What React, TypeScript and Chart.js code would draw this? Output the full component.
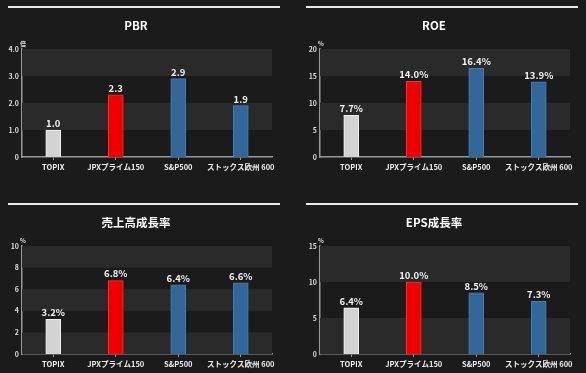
import React, { useEffect, useRef } from "react";
import { Chart, registerables } from "chart.js";
Chart.register(...registerables);

const categories = ["TOPIX", "JPXプライム150", "S&P500", "ストックス欧州 600"];
const pbrValues = [1.0, 2.3, 2.9, 1.9];
const roeValues = [7.7, 14.0, 16.4, 13.9];
const salesGrowthValues = [3.2, 6.8, 6.4, 6.6];
const epsGrowthValues = [6.4, 10.0, 8.5, 7.3];

const pbrTicks = ["0", "1.0", "2.0", "3.0", "4.0"];
const roeTicks = ["0", "5", "10", "15", "20"];
const salesTicks = ["0", "2", "4", "6", "8", "10"];
const epsTicks = ["0", "5", "10", "15"];

const barColors = ["#d3d3d3", "#ee0000", "#336699", "#336699"];
const barBorders = ["#f0f0f0", "#ff3030", "#4a7db0", "#4a7db0"];

const FONT = "'Noto Sans CJK JP', 'Noto Sans', sans-serif";

type PanelDef = {
  title: string;
  unit: string;
  suffix: string;
  values: number[];
  ticks: string[];
  max: number;
  step: number;
  left: number;
  top: number;
};

const panels: PanelDef[] = [
  { title: "PBR", unit: "倍", suffix: "", values: pbrValues, ticks: pbrTicks, max: 4, step: 1, left: 0, top: 0 },
  { title: "ROE", unit: "%", suffix: "%", values: roeValues, ticks: roeTicks, max: 20, step: 5, left: 298, top: 0 },
  { title: "売上高成長率", unit: "%", suffix: "%", values: salesGrowthValues, ticks: salesTicks, max: 10, step: 2, left: 0, top: 197 },
  { title: "EPS成長率", unit: "%", suffix: "%", values: epsGrowthValues, ticks: epsTicks, max: 15, step: 5, left: 298, top: 197 },
];

const bandsPlugin = {
  id: "bands",
  beforeDatasetsDraw(chart: any) {
    const { ctx, chartArea } = chart;
    const y = chart.scales.y;
    const ticks = y.ticks;
    const n = ticks.length;
    ctx.save();
    for (let j = 0; j < n - 1; j++) {
      if ((n - 2 - j) % 2 === 0) {
        const y0 = y.getPixelForValue(ticks[j].value);
        const y1 = y.getPixelForValue(ticks[j + 1].value);
        ctx.fillStyle = "#2a2a2a";
        ctx.fillRect(chartArea.left, y1, chartArea.right - chartArea.left, y0 - y1);
      }
    }
    ctx.restore();
  },
};

const labelsPlugin = {
  id: "valueLabels",
  afterDatasetsDraw(chart: any, _args: any, opts: any) {
    const { ctx } = chart;
    const meta = chart.getDatasetMeta(0);
    const data = chart.data.datasets[0].data as number[];
    ctx.save();
    ctx.fillStyle = "#f2f2f2";
    ctx.font = `bold 9.5px ${FONT}`;
    ctx.textAlign = "center";
    ctx.textBaseline = "bottom";
    meta.data.forEach((bar: any, i: number) => {
      ctx.fillText(data[i].toFixed(1) + (opts.suffix || ""), bar.x, bar.y - 2);
    });
    const ca = chart.chartArea;
    ctx.font = `bold 6px ${FONT}`;
    ctx.fillStyle = "#dddddd";
    ctx.textBaseline = "middle";
    ctx.fillText(opts.unit || "", ca.left + 1, ca.top - 5);
    ctx.restore();
  },
};

function Panel({ p }: { p: PanelDef }) {
  const ref = useRef<HTMLCanvasElement | null>(null);
  useEffect(() => {
    if (!ref.current) return;
    const chart = new Chart(ref.current, {
      type: "bar",
      data: {
        labels: categories,
        datasets: [
          {
            data: p.values,
            backgroundColor: barColors,
            borderColor: barBorders,
            borderWidth: 1,
            barThickness: 15,
          },
        ],
      },
      options: {
        animation: false,
        responsive: true,
        maintainAspectRatio: false,
        layout: { padding: { left: 0, right: 16, top: 0, bottom: 0 } },
        plugins: {
          legend: { display: false },
          tooltip: { enabled: false },
          title: {
            display: true,
            text: p.title,
            color: "#ffffff",
            font: { family: FONT, size: 11.5, weight: "bold" },
            padding: { top: 18.5, bottom: 16.7 },
          },
          valueLabels: { suffix: p.suffix, unit: p.unit },
        } as any,
        scales: {
          x: {
            grid: {
              display: true,
              drawOnChartArea: false,
              drawTicks: true,
              tickLength: 3,
              color: "#9a9a9a",
              offset: false,
            },
            border: { color: "#9a9a9a", width: 1.5 },
            ticks: {
              color: "#eeeeee",
              font: { family: FONT, size: 7.5, weight: "bold" },
              padding: 3,
              maxRotation: 0,
              autoSkip: false,
            },
            afterFit(scale: any) {
              scale.height = 19;
            },
          },
          y: {
            min: 0,
            max: p.max,
            grid: { display: false, drawTicks: false },
            border: { color: "#9a9a9a", width: 1.5 },
            ticks: {
              stepSize: p.step,
              color: "#dddddd",
              font: { family: FONT, size: 7, weight: "bold" },
              padding: 3,
              callback: (_v: any, i: number) => p.ticks[i],
            },
            afterFit(scale: any) {
              scale.width = 22;
            },
          },
        },
      },
      plugins: [bandsPlugin, labelsPlugin],
    });
    return () => chart.destroy();
  }, [p]);
  return (
    <div style={{ position: "absolute", left: p.left, top: p.top, width: 288, height: 176 }}>
      <div style={{ position: "absolute", left: 8, top: 6, width: 272, height: 2, background: "#e8e8e8" }} />
      <div style={{ position: "absolute", left: 0, top: 0, width: 288, height: 176 }}>
        <canvas ref={ref} />
      </div>
    </div>
  );
}

export default function App() {
  useEffect(() => {
    document.body.style.margin = "0";
    document.body.style.background = "#1b1b1b";
  }, []);
  return (
    <div style={{ position: "fixed", left: 0, top: 0, width: 586, height: 373, overflow: "hidden", background: "#1b1b1b" }}>
      {panels.map((p, i) => (
        <Panel key={i} p={p} />
      ))}
    </div>
  );
}
